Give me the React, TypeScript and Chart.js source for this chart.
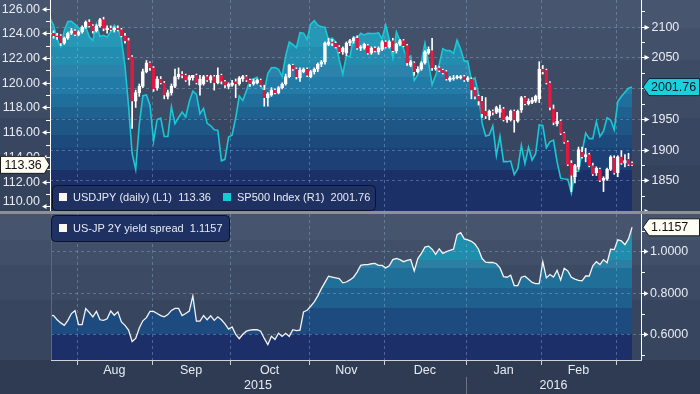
import React, { useEffect, useRef } from 'react';
import { Chart, registerables } from 'chart.js';

Chart.register(...registerables);

// ---------------- data (one entry per weekday, 22 Jul 2015 .. 7 Mar 2016) ----------------
const SP500 = [
  2114.15, 2102.15, 2079.65, 2067.64, 2093.25, 2108.57, 2108.63, 2103.84,
  2098.04, 2093.32, 2099.84, 2083.56, 2077.57, 2104.18, 2084.07, 2086.05, 2083.39, 2091.54, 2102.44, 2096.92, 2079.61, 2035.73, 1970.89, 1893.21, 1867.61, 1940.51, 1987.66, 1988.87, 1972.18,
  1913.85, 1948.86, 1951.13, 1921.22, 1921.22, 1969.41, 1942.04, 1952.29, 1961.05, 1953.03, 1978.09, 1995.31, 1990.2, 1958.03, 1966.97, 1942.74, 1938.76, 1932.24, 1931.34, 1881.77, 1884.09, 1920.03,
  1923.82, 1951.36, 1987.05, 1979.92, 1995.83, 2013.43, 2014.89, 2017.46, 2003.69, 1994.24, 2023.86, 2033.11, 2033.66, 2030.77, 2018.94, 2052.51, 2075.15, 2071.18, 2065.89, 2090.35, 2089.41, 2079.36,
  2104.05, 2109.79, 2102.31, 2099.93, 2099.2, 2078.58, 2081.72, 2075.0, 2045.97, 2023.04, 2053.19, 2050.44, 2083.58, 2081.24, 2089.17, 2086.59, 2089.14, 2088.87, 2088.87, 2090.11, 2080.41,
  2102.63, 2079.51, 2049.62, 2091.69, 2077.07, 2063.59, 2047.62, 2052.23, 2012.37, 2021.94, 2043.41, 2073.07, 2041.89, 2005.55, 2021.15, 2038.97, 2064.29, 2060.99, 2060.99, 2056.5, 2078.36, 2063.36, 2043.94,
  2043.94, 2012.66, 2016.71, 1990.26, 1943.09, 1922.03, 1923.67, 1938.68, 1890.28, 1921.84, 1880.33, 1880.33, 1881.33, 1859.33, 1868.99, 1906.9, 1877.08, 1903.63, 1882.95, 1893.36, 1940.24,
  1939.38, 1903.03, 1912.53, 1915.45, 1880.05, 1853.44, 1852.21, 1851.86, 1829.08, 1864.78, 1864.78, 1895.58, 1926.82, 1917.83, 1917.78, 1945.5, 1921.27, 1929.8, 1951.7, 1948.05, 1932.23,
  1978.35, 1986.45, 1993.4, 1999.99, 2001.76,
];

const USDJPY_OPEN = [
  123.9, 124.0, 123.8, 123.8, 123.2, 123.6, 124.0, 124.2, 123.9, 124.1, 124.5, 124.9, 124.6, 124.2, 124.6, 125.1, 124.3, 124.4, 124.3, 124.4,
  124.3, 123.8, 123.4, 122.1, 118.5, 119.2, 119.7, 120.9, 121.6, 121.2, 119.6, 120.3, 120.0, 118.9, 119.2, 119.7, 120.5, 120.7, 120.6, 120.2,
  120.4, 120.6, 119.8, 119.9, 120.5, 120.2, 120.5, 120.0, 120.6, 120.1, 119.7, 119.8, 120.1, 119.9, 120.3, 120.5, 120.2, 119.9, 120.0, 120.2,
  119.4, 118.8, 119.0, 119.4, 119.2, 119.6, 119.9, 120.5, 121.4, 121.1, 120.4, 120.9, 121.1, 120.5, 120.9, 121.1, 121.5, 121.7, 123.1, 123.3,
  123.2, 122.9, 122.5, 122.4, 123.2, 123.4, 123.6, 122.8, 122.8, 123.0, 122.4, 122.8, 122.5, 122.7, 123.3, 122.9, 123.4, 122.6, 123.1, 123.4,
  123.0, 121.4, 121.6, 120.9, 121.1, 121.6, 122.4, 122.6, 121.1, 121.2, 121.0, 120.9, 120.2, 120.3, 120.4, 120.4, 120.5, 120.2, 120.3, 119.4,
  118.9, 118.5, 117.7, 117.3, 117.7, 117.6, 117.6, 117.9, 117.0, 117.0, 117.7, 116.9, 117.8, 118.8, 118.3, 118.4, 118.5, 118.7, 121.1, 121.0,
  120.0, 117.9, 116.7, 116.9, 115.9, 115.2, 113.5, 112.4, 113.2, 114.4, 114.0, 114.2, 113.3, 112.7, 113.0, 112.1, 112.2, 113.0, 113.9, 112.7,
  114.0, 113.5, 113.8, 113.5,
];
const USDJPY_HIGH = [
  124.2, 124.2, 124.0, 123.9, 123.7, 124.1, 124.4, 124.3, 124.2, 124.6, 125.0, 125.1, 124.7, 124.7, 125.2, 125.3, 124.6, 124.6, 124.5, 124.6,
  124.4, 124.0, 123.6, 122.2, 119.4, 119.9, 121.1, 121.8, 121.7, 121.3, 120.5, 120.5, 120.1, 119.4, 119.9, 121.1, 121.2, 120.9, 120.7, 120.6,
  120.6, 120.7, 120.6, 120.6, 120.6, 120.6, 120.6, 121.2, 120.7, 120.2, 120.0, 120.2, 120.3, 120.5, 120.6, 120.6, 120.3, 120.3, 120.3, 120.3,
  119.8, 119.2, 119.6, 119.5, 119.7, 120.0, 120.7, 121.5, 121.5, 121.2, 121.2, 121.2, 121.2, 121.0, 121.2, 121.6, 121.8, 123.3, 123.6, 123.5,
  123.3, 123.0, 122.9, 123.3, 123.5, 123.7, 123.8, 123.0, 123.2, 123.1, 122.9, 122.9, 122.9, 123.4, 123.4, 123.4, 123.6, 123.2, 123.5, 123.5,
  123.1, 121.8, 121.7, 121.3, 121.7, 122.6, 122.9, 123.6, 121.4, 121.3, 121.1, 121.0, 120.5, 120.6, 120.6, 120.6, 120.6, 120.5, 120.4, 119.6,
  119.0, 118.9, 118.8, 117.8, 117.8, 118.1, 118.2, 118.0, 117.3, 117.8, 117.8, 117.8, 118.9, 118.9, 118.7, 118.8, 119.0, 121.7, 121.4, 121.1,
  120.1, 118.2, 117.6, 117.0, 116.0, 115.3, 113.7, 113.4, 114.8, 114.8, 114.7, 114.3, 113.5, 113.2, 113.1, 112.4, 113.1, 114.1, 114.1, 114.1,
  114.5, 114.2, 114.3, 113.6,
];
const USDJPY_LOW = [
  123.6, 123.6, 123.5, 123.0, 123.1, 123.5, 123.9, 123.8, 123.8, 124.0, 124.4, 124.5, 124.0, 124.1, 124.5, 124.2, 124.0, 124.2, 124.1, 124.2,
  123.7, 123.2, 121.9, 116.3, 118.0, 118.9, 119.6, 120.8, 121.0, 119.3, 119.4, 119.9, 118.7, 118.7, 119.0, 119.6, 120.3, 120.4, 120.1, 119.8,
  120.2, 119.9, 119.0, 119.8, 120.1, 120.0, 119.4, 119.9, 119.9, 119.6, 119.5, 119.7, 118.8, 119.8, 120.1, 120.1, 119.7, 119.8, 119.9, 119.7,
  118.1, 118.1, 118.9, 119.1, 119.1, 119.5, 119.8, 120.4, 121.0, 120.3, 120.1, 120.8, 120.5, 120.4, 120.7, 120.9, 121.3, 121.5, 123.0, 123.0,
  122.8, 122.4, 122.3, 122.2, 123.0, 123.2, 122.7, 122.6, 122.7, 122.3, 122.3, 122.5, 122.3, 122.6, 122.8, 122.8, 122.5, 122.4, 123.0, 122.9,
  121.4, 121.3, 120.6, 120.8, 121.0, 121.5, 122.3, 121.0, 121.0, 120.9, 120.7, 120.2, 120.1, 120.2, 120.3, 120.3, 120.1, 120.1, 118.7, 118.7,
  118.2, 117.2, 117.1, 117.0, 117.4, 117.5, 117.2, 116.9, 116.8, 116.9, 116.0, 116.8, 117.6, 118.2, 118.2, 118.3, 118.4, 118.4, 120.7, 119.9,
  117.8, 116.6, 116.5, 115.8, 115.1, 113.3, 111.2, 111.9, 113.0, 113.9, 113.6, 113.2, 112.5, 112.5, 112.0, 111.2, 112.1, 112.9, 112.6, 112.4,
  113.4, 113.2, 113.3, 113.3,
];
const USDJPY_CLOSE = [
  124.0, 123.8, 123.7, 123.2, 123.6, 124.0, 124.2, 123.9, 124.1, 124.5, 124.9, 124.6, 124.2, 124.6, 125.1, 124.4, 124.4, 124.3, 124.4, 124.3,
  123.8, 123.4, 122.0, 118.5, 119.2, 119.7, 120.9, 121.6, 121.2, 119.5, 120.3, 120.0, 119.0, 119.2, 119.7, 120.5, 120.7, 120.6, 120.2, 120.5,
  120.6, 120.0, 120.3, 120.5, 120.2, 120.5, 120.0, 120.6, 120.1, 119.8, 119.9, 120.0, 119.9, 120.4, 120.5, 120.2, 119.9, 120.1, 120.2, 119.8,
  118.8, 119.1, 119.4, 119.2, 119.6, 119.9, 120.5, 121.4, 121.1, 120.5, 121.0, 121.1, 120.6, 120.9, 121.1, 121.5, 121.7, 123.2, 123.3, 123.2,
  122.9, 122.5, 122.8, 123.2, 123.4, 123.6, 122.8, 122.9, 123.1, 122.4, 122.8, 122.6, 122.8, 123.3, 122.9, 123.3, 122.6, 123.1, 123.4, 123.0,
  121.6, 121.7, 120.9, 121.1, 121.6, 122.5, 122.7, 121.2, 121.2, 121.0, 120.8, 120.3, 120.4, 120.4, 120.5, 120.5, 120.2, 120.4, 119.4, 118.9,
  118.5, 117.5, 117.3, 117.7, 117.6, 118.0, 117.9, 117.0, 117.2, 117.7, 117.0, 117.7, 118.8, 118.3, 118.5, 118.6, 118.9, 121.1, 120.9, 120.0,
  118.0, 116.8, 116.9, 115.9, 115.2, 113.4, 112.5, 113.3, 114.6, 114.0, 114.2, 113.3, 112.6, 113.1, 112.1, 112.3, 113.0, 114.0, 112.7, 114.0,
  113.5, 113.7, 113.4, 113.36,
];

const SPREAD = [
  0.692, 0.69, 0.67, 0.655, 0.643, 0.667, 0.7, 0.714, 0.647, 0.647, 0.724, 0.705, 0.684, 0.71, 0.67, 0.667, 0.675, 0.712, 0.692, 0.708,
  0.66, 0.643, 0.62, 0.565, 0.58, 0.63, 0.665, 0.68, 0.71, 0.71, 0.7, 0.69, 0.684, 0.695, 0.715, 0.725, 0.725, 0.69, 0.7, 0.712,
  0.785, 0.663, 0.663, 0.69, 0.67, 0.689, 0.667, 0.684, 0.67, 0.65, 0.625, 0.635, 0.6, 0.579, 0.6, 0.615, 0.62, 0.622, 0.622, 0.615,
  0.58, 0.55, 0.59, 0.575, 0.605, 0.59, 0.605, 0.59, 0.622, 0.618, 0.62, 0.708, 0.716, 0.735, 0.756, 0.785, 0.82, 0.85, 0.88, 0.876,
  0.872, 0.868, 0.848, 0.852, 0.862, 0.875, 0.9, 0.932, 0.936, 0.936, 0.94, 0.942, 0.932, 0.932, 0.92, 0.93, 0.96, 0.966, 0.96, 0.95,
  0.956, 0.96, 0.905, 0.965, 0.99, 1.02, 1.025, 1.01, 0.985, 1.012, 0.99, 0.998, 1.005, 1.01, 1.08, 1.09, 1.06, 1.055, 1.048, 1.035,
  1.01, 0.965, 0.948, 0.946, 0.946, 0.94, 0.92, 0.878, 0.875, 0.885, 0.835, 0.835, 0.875, 0.88, 0.865, 0.85, 0.844, 0.844, 0.95, 0.872,
  0.888, 0.876, 0.908, 0.862, 0.918, 0.905, 0.875, 0.866, 0.86, 0.858, 0.881, 0.881, 0.93, 0.95, 0.936, 0.96, 0.945, 1.01, 1.008, 1.055,
  1.05, 1.032, 1.06, 1.1157,
];

const MONTH_LABELS = ['Aug', 'Sep', 'Oct', 'Nov', 'Dec', 'Jan', 'Feb'];
const MONTH_BOUNDS = [7.5, 28.5, 50.5, 72.5, 93.5, 116.5, 137.5, 158.5];
const YEAR_LABELS = ['2015', '2016'];
const YEAR_BOUNDS = [0, 116.5, 165.5];
const USDJPY_TICKS = [110, 111, 112, 113, 114, 115, 116, 117, 118, 119, 120, 121, 122, 123, 124, 125, 126];
const SP500_TICKS = [1800, 1825, 1850, 1875, 1900, 1925, 1950, 1975, 2000, 2025, 2050, 2075, 2100, 2125];
const SPREAD_TICKS = [0.5, 0.6, 0.7, 0.8, 0.9, 1.0, 1.1];

const LAST_USDJPY = 113.36;
const LAST_SP500 = 2001.76;
const LAST_SPREAD = 1.1157;

// ---------------- styles ----------------
const FONT_AXIS = '12.5px "Liberation Sans", Arial, sans-serif';
const FONT_LEG = '11px "Liberation Sans", Arial, sans-serif';
const AXIS_TEXT = '#e8ecf2';
const GRID = 'rgba(140,178,215,0.42)';
const CYAN = '#1ac8d4';
const RED = '#e0193f';

const PAGE_BANDS: [number, string][] = [
  [0, '#47556e'], [28, '#425069'], [60, '#3d4b65'], [118, '#394661'], [165, '#35425c'],
  [211, '#8d9196'], [214, '#46546d'], [240, '#414f68'], [265, '#3c4a64'], [300, '#38455f'], [360, '#2f3b52'],
];
const TOP_FILL_BANDS: [number, string][] = [
  [0, '#2698b6'], [47, '#238db0'], [65, '#2b82aa'], [77, '#227aa6'], [94, '#206e9c'], [107, '#1f6290'],
  [118, '#1e5686'], [135, '#1d4a7d'], [148, '#1d4076'], [170, '#1c3068'],
];
const BOT_FILL_BANDS: [number, string][] = [
  [0, '#2592b0'], [21, '#1f8dac'], [46, '#2c7ea3'], [54, '#1f6f98'], [74, '#1e5f8d'], [94, '#1d4b80'], [120, '#1c2f69'],
];

function cssBands(bands: [number, string][], total: number) {
  const stops: string[] = [];
  bands.forEach(([y, c], i) => {
    const end = i + 1 < bands.length ? bands[i + 1][0] : total;
    stops.push(`${c} ${y}px`, `${c} ${end}px`);
  });
  return `linear-gradient(to bottom, ${stops.join(', ')})`;
}

function canvasBands(ctx: CanvasRenderingContext2D, bands: [number, string][], total: number) {
  const g = ctx.createLinearGradient(0, 0, 0, total);
  bands.forEach(([y, c], i) => {
    const end = i + 1 < bands.length ? bands[i + 1][0] : total;
    g.addColorStop(Math.min(1, y / total), c);
    g.addColorStop(Math.min(1, end / total), c);
  });
  return g;
}

function line(ctx: CanvasRenderingContext2D, x1: number, y1: number, x2: number, y2: number) {
  ctx.beginPath();
  ctx.moveTo(x1, y1);
  ctx.lineTo(x2, y2);
  ctx.stroke();
}

function roundRectPath(ctx: CanvasRenderingContext2D, x: number, y: number, w: number, h: number, r: number) {
  ctx.beginPath();
  ctx.moveTo(x + r, y);
  ctx.lineTo(x + w - r, y);
  ctx.quadraticCurveTo(x + w, y, x + w, y + r);
  ctx.lineTo(x + w, y + h - r);
  ctx.quadraticCurveTo(x + w, y + h, x + w - r, y + h);
  ctx.lineTo(x + r, y + h);
  ctx.quadraticCurveTo(x, y + h, x, y + h - r);
  ctx.lineTo(x, y + r);
  ctx.quadraticCurveTo(x, y, x + r, y);
  ctx.closePath();
}

// tag pointing left, body to the right of tip
function tagRight(ctx: CanvasRenderingContext2D, tipX: number, cy: number, fill: string, stroke: string, text: string, color: string) {
  const h = 8.5;
  ctx.beginPath();
  ctx.moveTo(tipX, cy);
  ctx.lineTo(tipX + 6, cy - h);
  ctx.lineTo(699.5, cy - h);
  ctx.lineTo(699.5, cy + h);
  ctx.lineTo(tipX + 6, cy + h);
  ctx.closePath();
  ctx.fillStyle = fill;
  ctx.fill();
  ctx.strokeStyle = stroke;
  ctx.lineWidth = 1;
  ctx.stroke();
  ctx.fillStyle = color;
  ctx.font = FONT_AXIS;
  ctx.textAlign = 'left';
  ctx.textBaseline = 'middle';
  ctx.fillText(text, tipX + 8, cy + 0.5);
}

function gridLines(chart: any, yScale: any, majors: number[]) {
  const { ctx, chartArea: a, scales } = chart;
  ctx.save();
  ctx.beginPath();
  ctx.rect(a.left, a.top, a.right - a.left, a.bottom - a.top);
  ctx.clip();
  ctx.strokeStyle = GRID;
  ctx.lineWidth = 1;
  ctx.setLineDash([3, 3]);
  for (const b of MONTH_BOUNDS) {
    const px = Math.round(scales.x.getPixelForValue(b)) + 0.5;
    line(ctx, px, a.top, px, a.bottom);
  }
  for (const v of majors) {
    const py = Math.round(yScale.getPixelForValue(v)) + 0.5;
    line(ctx, a.left, py, a.right, py);
  }
  ctx.restore();
}

const topDecor = {
  id: 'topDecor',
  beforeDatasetsDraw(chart: any) {
    gridLines(chart, chart.scales.yR, SP500_TICKS.filter((v) => v % 50 === 0));
  },
  afterDraw(chart: any) {
    const { ctx, chartArea: a, scales } = chart;
    const yL = scales.yL;
    const yR = scales.yR;
    ctx.save();
    ctx.strokeStyle = '#ffffff';
    ctx.fillStyle = '#ffffff';
    ctx.lineWidth = 1;
    // axis lines
    line(ctx, a.left + 0.5, 0, a.left + 0.5, a.bottom);
    line(ctx, a.right + 0.5, 0, a.right + 0.5, a.bottom);
    // left ticks and labels
    ctx.font = FONT_AXIS;
    ctx.textAlign = 'right';
    ctx.textBaseline = 'middle';
    for (const v of USDJPY_TICKS) {
      const py = Math.round(yL.getPixelForValue(v)) + 0.5;
      if (v % 2 === 0) {
        ctx.fillStyle = '#ffffff';
        ctx.beginPath();
        ctx.moveTo(a.left - 8, py);
        ctx.lineTo(a.left - 3.5, py - 2.5);
        ctx.lineTo(a.left - 3.5, py + 2.5);
        ctx.closePath();
        ctx.fill();
        line(ctx, a.left - 4, py, a.left, py);
        ctx.fillStyle = AXIS_TEXT;
        const ly = Math.max(10, Math.min(201.5, py));
        ctx.fillText(v.toFixed(2), a.left - 10, ly);
      } else {
        line(ctx, a.left - 4, py, a.left, py);
      }
    }
    // right ticks and labels
    ctx.textAlign = 'left';
    for (const v of SP500_TICKS) {
      const py = Math.round(yR.getPixelForValue(v)) + 0.5;
      line(ctx, a.right, py, a.right + 4, py);
      if (v % 50 === 0) {
        ctx.fillStyle = '#ffffff';
        ctx.beginPath();
        ctx.moveTo(a.right + 8.5, py);
        ctx.lineTo(a.right + 3.5, py - 2.5);
        ctx.lineTo(a.right + 3.5, py + 2.5);
        ctx.closePath();
        ctx.fill();
        if (py > 12 && py < 200) {
          ctx.fillStyle = AXIS_TEXT;
          ctx.fillText(String(v), a.right + 10.5, py);
        }
      }
    }
    // value tags
    const cyL = yL.getPixelForValue(LAST_USDJPY);
    ctx.beginPath();
    ctx.moveTo(0.5, cyL - 8.5);
    ctx.lineTo(44.5, cyL - 8.5);
    ctx.lineTo(a.left - 0.5, cyL);
    ctx.lineTo(44.5, cyL + 8.5);
    ctx.lineTo(0.5, cyL + 8.5);
    ctx.closePath();
    ctx.fillStyle = '#fffdf4';
    ctx.fill();
    ctx.strokeStyle = '#1a1a1a';
    ctx.stroke();
    ctx.fillStyle = '#111111';
    ctx.font = FONT_AXIS;
    ctx.textAlign = 'left';
    ctx.textBaseline = 'middle';
    ctx.fillText(LAST_USDJPY.toFixed(2), 4.5, cyL + 0.5);
    tagRight(ctx, a.right + 2, yR.getPixelForValue(LAST_SP500), '#1ad0da', '#0c2433', LAST_SP500.toFixed(2), '#0b1a2a');
    // legend
    roundRectPath(ctx, 52.5, 185.5, 323, 25, 4);
    ctx.fillStyle = '#1f3163';
    ctx.fill();
    ctx.strokeStyle = '#0b1326';
    ctx.stroke();
    ctx.fillStyle = '#fbf6ee';
    ctx.fillRect(59, 193, 8, 8);
    ctx.fillStyle = '#14cbd3';
    ctx.fillRect(223, 193, 8, 8);
    ctx.font = FONT_LEG;
    ctx.fillStyle = '#e6eaf2';
    ctx.textBaseline = 'middle';
    ctx.fillText(`USDJPY (daily) (L1)  ${LAST_USDJPY.toFixed(2)}`, 73, 197.5);
    ctx.fillText(`SP500 Index (R1)  ${LAST_SP500.toFixed(2)}`, 237, 197.5);
    ctx.restore();
  },
};

const bottomDecor = {
  id: 'bottomDecor',
  beforeDatasetsDraw(chart: any) {
    gridLines(chart, chart.scales.y, [0.6, 0.8, 1.0]);
  },
  afterDraw(chart: any) {
    const { ctx, chartArea: a, scales } = chart;
    const y = scales.y;
    const x = scales.x;
    ctx.save();
    ctx.lineWidth = 1;
    ctx.strokeStyle = '#5d687b';
    line(ctx, a.left + 0.5, 0, a.left + 0.5, a.bottom);
    ctx.strokeStyle = '#ffffff';
    line(ctx, a.right + 0.5, 0, a.right + 0.5, a.bottom + 1);
    ctx.strokeStyle = '#cdd2da';
    line(ctx, a.left, a.bottom + 0.5, a.right + 1, a.bottom + 0.5);
    // x ticks
    for (const b of MONTH_BOUNDS) {
      const px = Math.round(x.getPixelForValue(b)) + 0.5;
      line(ctx, px, a.bottom, px, a.bottom + 5);
    }
    // right ticks
    ctx.strokeStyle = '#ffffff';
    ctx.font = FONT_AXIS;
    ctx.textAlign = 'left';
    ctx.textBaseline = 'middle';
    for (const v of SPREAD_TICKS) {
      const py = Math.round(y.getPixelForValue(v)) + 0.5;
      line(ctx, a.right, py, a.right + 4, py);
      const major = Math.round(v * 10) % 2 === 0;
      if (major) {
        ctx.fillStyle = '#ffffff';
        ctx.beginPath();
        ctx.moveTo(a.right + 7.5, py);
        ctx.lineTo(a.right + 3, py - 2.5);
        ctx.lineTo(a.right + 3, py + 2.5);
        ctx.closePath();
        ctx.fill();
        ctx.fillStyle = AXIS_TEXT;
        ctx.fillText(v.toFixed(4), a.right + 9, py);
      }
    }
    // month & year labels
    ctx.fillStyle = AXIS_TEXT;
    ctx.textAlign = 'center';
    MONTH_LABELS.forEach((m, i) => {
      const cx = x.getPixelForValue((MONTH_BOUNDS[i] + MONTH_BOUNDS[i + 1]) / 2);
      ctx.fillText(m, cx, a.bottom + 11);
    });
    YEAR_LABELS.forEach((t, i) => {
      const cx = x.getPixelForValue((YEAR_BOUNDS[i] + YEAR_BOUNDS[i + 1]) / 2);
      ctx.fillText(t, cx, a.bottom + 25.5);
    });
    ctx.strokeStyle = '#6a7486';
    const sx = Math.round(x.getPixelForValue(YEAR_BOUNDS[1])) + 0.5;
    line(ctx, sx, a.bottom + 17, sx, a.bottom + 34);
    // value tag
    tagRight(ctx, a.right + 2, y.getPixelForValue(LAST_SPREAD), '#fffdf4', '#1a1a1a', LAST_SPREAD.toFixed(4), '#111111');
    // legend
    roundRectPath(ctx, 51.5, 1.5, 178, 26, 4);
    ctx.fillStyle = '#1f3163';
    ctx.fill();
    ctx.strokeStyle = '#0b1326';
    ctx.stroke();
    ctx.fillStyle = '#fbf6ee';
    ctx.fillRect(59, 10, 8, 8);
    ctx.font = FONT_LEG;
    ctx.fillStyle = '#e6eaf2';
    ctx.textAlign = 'left';
    ctx.fillText(`US-JP 2Y yield spread  ${LAST_SPREAD.toFixed(4)}`, 73, 14.5);
    ctx.restore();
  },
};

export default function App() {
  const topRef = useRef<HTMLCanvasElement>(null);
  const botRef = useRef<HTMLCanvasElement>(null);

  useEffect(() => {
    document.body.style.margin = '0';
    const tc = topRef.current!;
    const bc = botRef.current!;
    const topGrad = canvasBands(tc.getContext('2d')!, TOP_FILL_BANDS, 211);
    const botGrad = canvasBands(bc.getContext('2d')!, BOT_FILL_BANDS, 146);

    const bodies = USDJPY_OPEN.map((o, i) => ({ x: i, y: [o, USDJPY_CLOSE[i]] }));
    const wicks = USDJPY_LOW.map((l, i) => ({ x: i, y: [l, USDJPY_HIGH[i]] }));
    const up = USDJPY_OPEN.map((o, i) => USDJPY_CLOSE[i] >= o);

    const top = new Chart(tc, {
      type: 'bar',
      data: {
        datasets: [
          {
            type: 'line',
            label: 'SP500 Index',
            data: SP500.map((v, i) => ({ x: i, y: v })),
            yAxisID: 'yR',
            borderColor: CYAN,
            borderWidth: 1.6,
            pointRadius: 0,
            tension: 0,
            fill: 'start',
            backgroundColor: topGrad,
            order: 3,
          } as any,
          {
            type: 'bar',
            label: 'wick',
            data: wicks as any,
            yAxisID: 'yL',
            backgroundColor: '#ffffff',
            borderWidth: 0,
            barThickness: 1,
            grouped: false,
            order: 2,
          },
          {
            type: 'bar',
            label: 'USDJPY',
            data: bodies as any,
            yAxisID: 'yL',
            backgroundColor: up.map((u) => (u ? 'rgba(0,0,0,0)' : RED)),
            borderColor: up.map((u) => (u ? '#ffffff' : RED)),
            borderWidth: 1,
            borderSkipped: false,
            barThickness: 3,
            minBarLength: 1,
            grouped: false,
            order: 1,
          },
        ],
      },
      options: {
        responsive: false,
        animation: false,
        events: [],
        layout: { padding: { left: 50, right: 59, top: 0, bottom: 0 } },
        scales: {
          x: { type: 'linear', min: 0, max: 165.5, display: false, offset: false },
          yL: { type: 'linear', position: 'left', min: 109.63, max: 126.69, display: false },
          yR: { type: 'linear', position: 'right', min: 1800.03, max: 2143.46, display: false },
        },
        plugins: {
          legend: { display: false },
          tooltip: { enabled: false },
          filler: { drawTime: 'beforeDatasetsDraw' },
        } as any,
      },
      plugins: [topDecor],
    });

    const bottom = new Chart(bc, {
      type: 'line',
      data: {
        datasets: [
          {
            label: 'US-JP 2Y yield spread',
            data: SPREAD.map((v, i) => ({ x: i, y: v })),
            borderColor: '#f4f4f4',
            borderWidth: 1.3,
            pointRadius: 0,
            tension: 0,
            fill: 'start',
            backgroundColor: botGrad,
          },
        ],
      },
      options: {
        responsive: false,
        animation: false,
        events: [],
        layout: { padding: { left: 51, right: 59, top: 0, bottom: 34 } },
        scales: {
          x: { type: 'linear', min: 0.28, max: 165.5, display: false },
          y: { type: 'linear', position: 'right', min: 0.4761, max: 1.1798, display: false },
        },
        plugins: {
          legend: { display: false },
          tooltip: { enabled: false },
          filler: { drawTime: 'beforeDatasetsDraw' },
        } as any,
      },
      plugins: [bottomDecor],
    });

    return () => {
      top.destroy();
      bottom.destroy();
    };
  }, []);

  return (
    <div
      style={{
        position: 'relative',
        width: 700,
        height: 394,
        overflow: 'hidden',
        background: cssBands(PAGE_BANDS, 394),
      }}
    >
      <canvas ref={topRef} width={700} height={211} style={{ position: 'absolute', left: 0, top: 0, width: 700, height: 211 }} />
      <canvas ref={botRef} width={700} height={180} style={{ position: 'absolute', left: 0, top: 214, width: 700, height: 180 }} />
    </div>
  );
}
